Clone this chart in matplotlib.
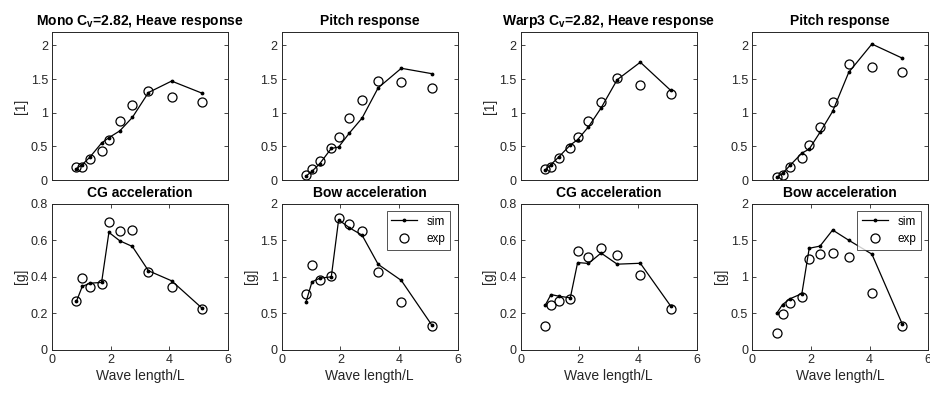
import matplotlib
matplotlib.use('Agg')
import matplotlib.pyplot as plt

plt.rcParams['font.family'] = ['Liberation Sans', 'DejaVu Sans']
plt.rcParams['mathtext.fontset'] = 'custom'
plt.rcParams['mathtext.rm'] = 'Liberation Sans'
plt.rcParams['mathtext.bf'] = 'Liberation Sans:bold'

# wave length / L
x = [0.83, 1.03, 1.29, 1.69, 1.94, 2.31, 2.74, 3.29, 4.08, 5.12]

# Mono hull
mono_heave_sim = [0.17, 0.23, 0.34, 0.55, 0.63, 0.73, 0.93, 1.30, 1.47, 1.29]
mono_heave_exp = [0.20, 0.20, 0.32, 0.43, 0.60, 0.88, 1.11, 1.32, 1.24, 1.16]
mono_pitch_sim = [0.06, 0.13, 0.24, 0.47, 0.49, 0.70, 0.92, 1.37, 1.66, 1.58]
mono_pitch_exp = [0.08, 0.16, 0.29, 0.48, 0.64, 0.92, 1.19, 1.47, 1.45, 1.36]
mono_cg_sim = [0.265, 0.347, 0.365, 0.369, 0.643, 0.597, 0.566, 0.433, 0.378, 0.228]
mono_cg_exp = [0.265, 0.393, 0.342, 0.360, 0.698, 0.648, 0.658, 0.424, 0.342, 0.223]
mono_bow_sim = [0.66, 0.93, 0.98, 1.00, 1.78, 1.67, 1.57, 1.17, 0.95, 0.34]
mono_bow_exp = [0.77, 1.16, 0.95, 1.01, 1.81, 1.72, 1.62, 1.06, 0.65, 0.32]

# Warp3 hull
warp_heave_sim = [0.15, 0.23, 0.34, 0.52, 0.60, 0.79, 1.07, 1.49, 1.75, 1.33]
warp_heave_exp = [0.16, 0.20, 0.33, 0.48, 0.64, 0.88, 1.16, 1.52, 1.41, 1.28]
warp_pitch_sim = [0.04, 0.10, 0.22, 0.40, 0.46, 0.71, 1.02, 1.60, 2.02, 1.81]
warp_pitch_exp = [0.04, 0.08, 0.20, 0.33, 0.52, 0.79, 1.16, 1.72, 1.68, 1.60]
warp_cg_sim = [0.243, 0.303, 0.294, 0.285, 0.478, 0.473, 0.530, 0.469, 0.474, 0.239]
warp_cg_exp = [0.129, 0.243, 0.270, 0.281, 0.539, 0.506, 0.555, 0.519, 0.408, 0.224]
warp_bow_sim = [0.50, 0.62, 0.70, 0.77, 1.39, 1.42, 1.64, 1.50, 1.31, 0.35]
warp_bow_exp = [0.23, 0.49, 0.64, 0.73, 1.25, 1.31, 1.32, 1.27, 0.78, 0.32]

gray = '#262626'
fig = plt.figure(figsize=(9.3, 3.94), dpi=100)

lefts = [0.056, 0.303, 0.560, 0.809]
w = 0.189
top_b, top_h = 0.543, 0.376
bot_b, bot_h = 0.112, 0.371

panels = [
    # (col, row, sim, exp, title, ylabel, ylim, yticks, legend)
    (0, 0, mono_heave_sim, mono_heave_exp, r'Mono C$_{\mathbf{v}}$=2.82, Heave response', '[1]', 2.2, [0, 0.5, 1, 1.5, 2], False),
    (1, 0, mono_pitch_sim, mono_pitch_exp, 'Pitch response', '', 2.2, [0, 0.5, 1, 1.5, 2], False),
    (2, 0, warp_heave_sim, warp_heave_exp, r'Warp3 C$_{\mathbf{v}}$=2.82, Heave response', '[1]', 2.2, [0, 0.5, 1, 1.5, 2], False),
    (3, 0, warp_pitch_sim, warp_pitch_exp, 'Pitch response', '', 2.2, [0, 0.5, 1, 1.5, 2], False),
    (0, 1, mono_cg_sim, mono_cg_exp, 'CG acceleration', '[g]', 0.8, [0, 0.2, 0.4, 0.6, 0.8], False),
    (1, 1, mono_bow_sim, mono_bow_exp, 'Bow acceleration', '[g]', 2, [0, 0.5, 1, 1.5, 2], True),
    (2, 1, warp_cg_sim, warp_cg_exp, 'CG acceleration', '[g]', 0.8, [0, 0.2, 0.4, 0.6, 0.8], False),
    (3, 1, warp_bow_sim, warp_bow_exp, 'Bow acceleration', '[g]', 2, [0, 0.5, 1, 1.5, 2], True),
]

for col, row, sim, exp, title, ylabel, ytop, yticks, leg in panels:
    if row == 0:
        ax = fig.add_axes([lefts[col], top_b, w, top_h])
    else:
        ax = fig.add_axes([lefts[col], bot_b, w, bot_h])
    ax.plot(x, sim, '-', color='black', lw=0.9, marker='.', markersize=3.5, label='sim')
    ax.plot(x, exp, 'o', mfc='none', mec='black', markersize=6.5, mew=0.9, label='exp')
    ax.set_xlim(0, 6)
    ax.set_ylim(0, ytop)
    ax.set_yticks(yticks)
    ax.set_yticklabels([f'{t:g}' for t in yticks])
    ax.set_title(title, fontsize=10, fontweight='bold', pad=5)
    if ylabel:
        ax.set_ylabel(ylabel, fontsize=10, color=gray, labelpad=2)
    if row == 0:
        ax.set_xticks([])
    else:
        ax.set_xticks([0, 2, 4, 6])
        ax.set_xlabel('Wave length/L', fontsize=10, color=gray, labelpad=2)
    ax.tick_params(direction='in', top=row == 1, right=True, labelsize=9,
                   colors=gray, length=3, width=0.6, pad=3)
    for s in ax.spines.values():
        s.set_color(gray)
        s.set_linewidth(0.7)
    if leg:
        lg = ax.legend(loc='upper right', fontsize=8.5, frameon=True, fancybox=False,
                       edgecolor=gray, handlelength=2.2, borderaxespad=0.6,
                       labelspacing=0.5)
        lg.get_frame().set_linewidth(0.7)

plt.savefig('out.png', dpi=100)
